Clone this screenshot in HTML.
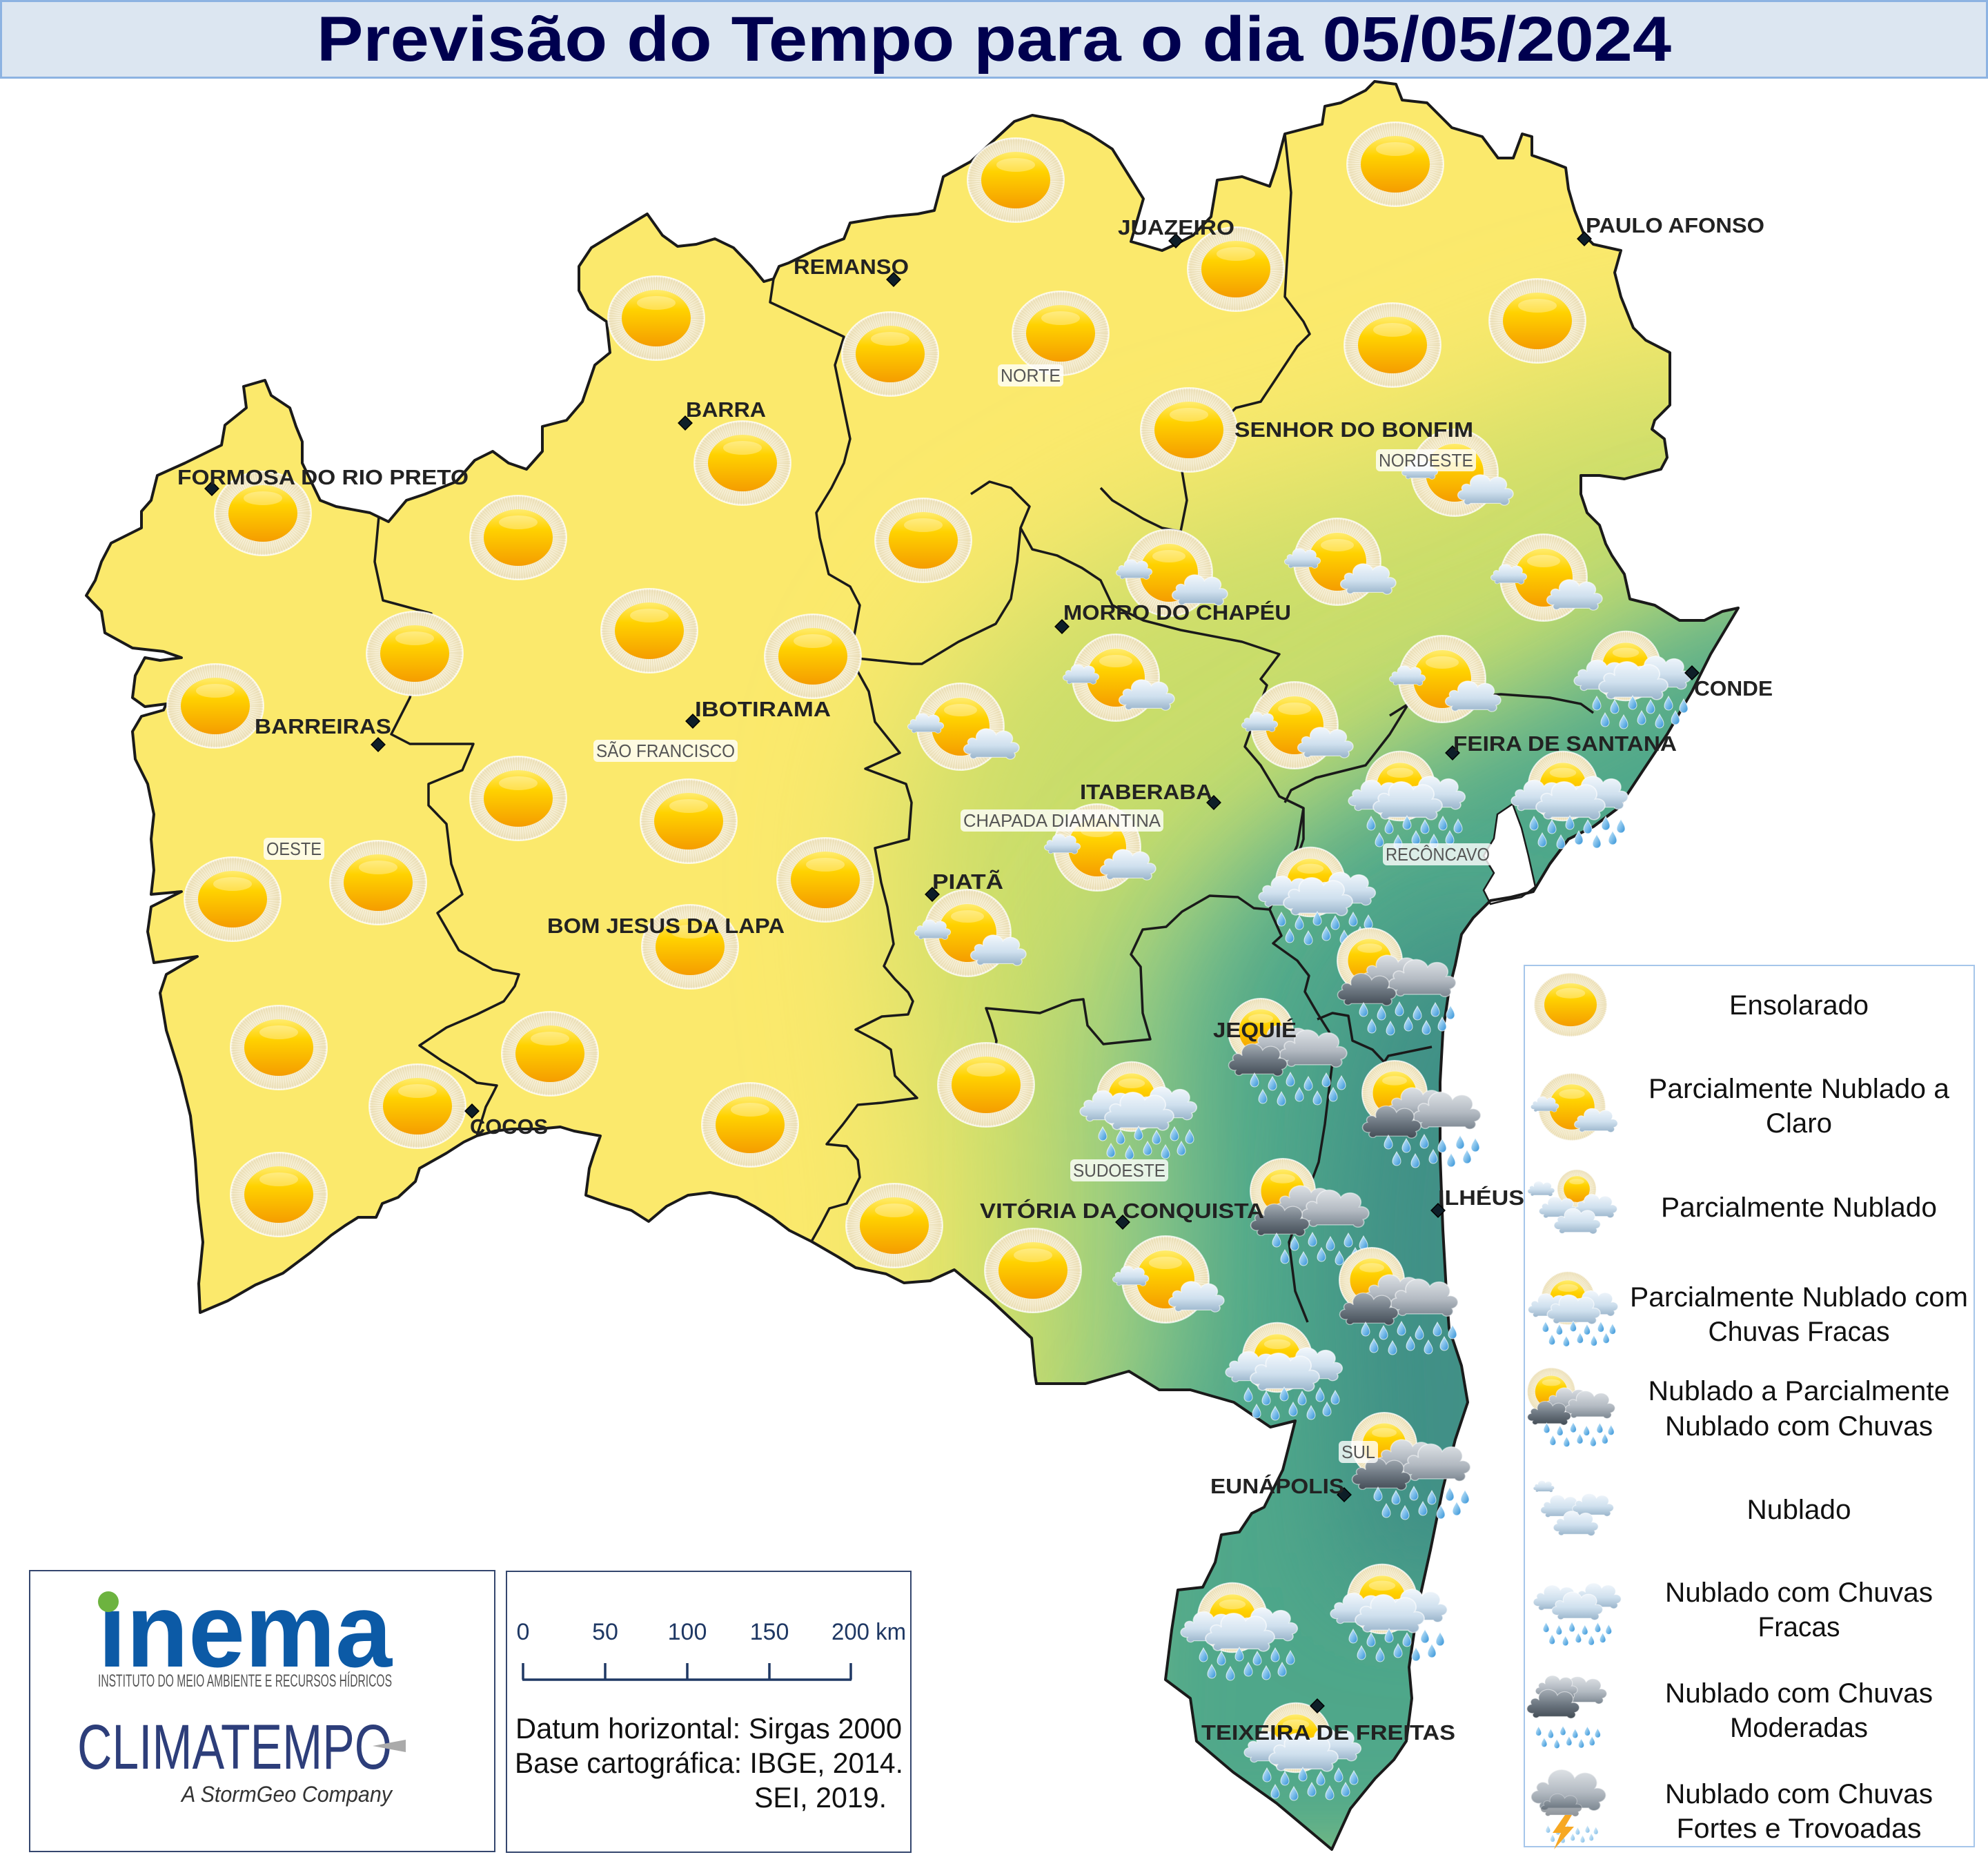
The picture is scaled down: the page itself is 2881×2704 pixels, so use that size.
<!DOCTYPE html>
<html><head><meta charset="utf-8"><style>
html,body{margin:0;padding:0;background:#fff;}
svg{display:block;}
text{font-family:"Liberation Sans","DejaVu Sans",sans-serif;}
.city{font-weight:bold;font-size:31px;fill:#222;}
.reg{font-size:26px;fill:#555;}
.lg{font-size:40px;fill:#111;text-anchor:middle;}
</style></head><body>
<svg width="2881" height="2704" viewBox="0 0 2881 2704" xmlns="http://www.w3.org/2000/svg">
<defs>
<radialGradient id="hg"><stop offset="0" stop-color="#fff8e0"/><stop offset="0.8" stop-color="#f6eed3"/><stop offset="0.95" stop-color="#f1e6c4"/><stop offset="1" stop-color="#fbf8ee"/></radialGradient>
<linearGradient id="dg" x1="0" y1="0" x2="0" y2="1"><stop offset="0" stop-color="#ffec6e"/><stop offset="0.35" stop-color="#ffd200"/><stop offset="1" stop-color="#f59d00"/></linearGradient>
<linearGradient id="clg" x1="0" y1="0" x2="0" y2="1"><stop offset="0" stop-color="#f2f7fc"/><stop offset="0.55" stop-color="#cfe0ee"/><stop offset="1" stop-color="#98b3ca"/></linearGradient>
<linearGradient id="cdg" x1="0" y1="0" x2="0" y2="1"><stop offset="0" stop-color="#a4acb4"/><stop offset="0.5" stop-color="#6e7882"/><stop offset="1" stop-color="#434c55"/></linearGradient>
<linearGradient id="cd2g" x1="0" y1="0" x2="0" y2="1"><stop offset="0" stop-color="#dde1e5"/><stop offset="0.55" stop-color="#b3bac2"/><stop offset="1" stop-color="#7c8791"/></linearGradient>
<linearGradient id="drg" x1="0" y1="0" x2="1" y2="1"><stop offset="0" stop-color="#d4f0ff"/><stop offset="1" stop-color="#2f90d6"/></linearGradient>
<filter id="b1" filterUnits="userSpaceOnUse" x="0" y="0" width="2881" height="2704"><feGaussianBlur stdDeviation="110"/></filter>
<filter id="b2" filterUnits="userSpaceOnUse" x="0" y="0" width="2881" height="2704"><feGaussianBlur stdDeviation="90"/></filter>
<filter id="b3" filterUnits="userSpaceOnUse" x="0" y="0" width="2881" height="2704"><feGaussianBlur stdDeviation="75"/></filter>
<polygon id="state" points="384,551 393,573 420,591 429,618 438,640 438,671 464,725 487,734 536,743 563,756 589,725 616,716 661,698 688,667 714,654 737,671 763,680 786,654 786,618 821,609 844,582 862,529 884,511 879,466 853,448 839,421 839,386 857,359 893,337 938,310 960,341 982,357 1009,354 1036,346 1063,359 1089,386 1107,408 1121,404 1129,386 1143,381 1188,359 1223,346 1232,323 1286,314 1330,310 1354,305 1367,256 1407,234 1470,176 1496,167 1540,175 1580,195 1612,216 1657,288 1639,350 1684,363 1704,354 1729,341 1755,314 1764,261 1800,256 1840,270 1849,243 1862,194 1916,180 1920,154 1943,149 1979,131 1992,118 2023,122 2032,145 2068,149 2104,185 2148,198 2171,229 2193,229 2206,194 2220,198 2220,225 2246,234 2269,243 2273,274 2282,305 2296,341 2309,354 2349,363 2340,395 2349,430 2367,475 2385,493 2420,511 2420,587 2398,609 2394,622 2412,636 2416,663 2407,680 2354,694 2318,689 2291,689 2291,716 2300,743 2318,761 2327,788 2336,805 2354,832 2362,868 2398,877 2434,899 2470,899 2496,886 2519,881 2479,948 2452,1002 2416,1064 2380,1118 2345,1171 2309,1198 2273,1216 2246,1252 2222,1292 2190,1300 2160,1305 2135,1330 2118,1354 2109,1398 2100,1434 2091,1496 2087,1568 2087,1675 2091,1782 2096,1871 2100,1925 2118,1979 2127,2032 2109,2086 2091,2157 2073,2246 2055,2327 2042,2416 2046,2461 2038,2523 2020,2550 1993,2577 1957,2621 1930,2680 1850,2613 1787,2568 1734,2523 1725,2461 1689,2434 1698,2362 1707,2304 1743,2300 1761,2264 1770,2224 1796,2220 1814,2193 1832,2184 1859,2130 1868,2095 1877,2059 1841,2068 1788,2032 1725,2014 1680,2014 1636,1987 1573,2005 1502,2005 1500,1993 1495,1939 1437,1885 1383,1840 1348,1856 1310,1859 1284,1846 1240,1837 1214,1821 1176,1799 1144,1783 1119,1764 1093,1748 1068,1735 1029,1728 997,1732 966,1748 940,1770 915,1754 883,1744 849,1732 854,1693 860,1674 870,1646 832,1639 812,1633 781,1636 742,1636 717,1639 691,1646 672,1655 647,1671 608,1693 602,1712 577,1735 554,1744 545,1764 519,1764 500,1776 480,1790 450,1815 410,1845 370,1862 330,1885 290,1902 288,1860 294,1800 287,1740 283,1680 276,1617 262,1560 241,1493 232,1439 241,1412 286,1386 223,1395 214,1350 219,1314 263,1292 219,1296 223,1261 219,1216 223,1180 214,1136 196,1100 192,1060 205,1038 237,1029 241,1020 210,1024 192,1011 196,979 210,953 232,957 263,953 237,944 192,939 152,917 147,886 125,863 138,841 147,814 161,787 205,765 205,741 219,725 228,689 268,671 321,645 326,616 357,591 353,560"/>
<clipPath id="stc"><use href="#state"/></clipPath>
<g id="sun">
 <ellipse rx="70" ry="61" fill="url(#hg)"/>
 <ellipse rx="60" ry="51" fill="none" stroke="#dccb94" stroke-width="20" stroke-dasharray="1 2.4" opacity=".45"/>
 <ellipse rx="70" ry="61" fill="none" stroke="#fff" stroke-width="2" opacity=".7"/>
 <ellipse rx="50" ry="41" fill="url(#dg)"/>
 <ellipse cy="-22" rx="28" ry="10" fill="#fff" opacity=".3"/>
</g>
<g id="sunc">
 <circle r="63" fill="url(#hg)"/>
 <circle r="53" fill="none" stroke="#dccb94" stroke-width="20" stroke-dasharray="1 2.4" opacity=".45"/>
 <circle r="63" fill="none" stroke="#fff" stroke-width="2" opacity=".7"/>
 <circle r="42" fill="url(#dg)"/>
 <ellipse cy="-24" rx="24" ry="9" fill="#fff" opacity=".3"/>
</g>
<g id="cL"><path transform="scale(1,.85)" d="M-40,18 A1,1 0 0 1 -44,-4 A1,1 0 0 1 -28,-14 A1,1 0 0 1 10,-26 A1,1 0 0 1 40,-8 A1,1 0 0 1 46,16 A1,1 0 0 1 30,26 L-28,26 A1,1 0 0 1 -40,18 Z" fill="url(#clg)" stroke="#fff" stroke-opacity=".6" stroke-width="2"/></g>
<g id="cD"><path transform="scale(1,.85)" d="M-40,18 A1,1 0 0 1 -44,-4 A1,1 0 0 1 -28,-14 A1,1 0 0 1 10,-26 A1,1 0 0 1 40,-8 A1,1 0 0 1 46,16 A1,1 0 0 1 30,26 L-28,26 A1,1 0 0 1 -40,18 Z" fill="url(#cdg)" stroke="#fff" stroke-opacity=".5" stroke-width="2"/></g>
<g id="cD2"><path transform="scale(1,.85)" d="M-40,18 A1,1 0 0 1 -44,-4 A1,1 0 0 1 -28,-14 A1,1 0 0 1 10,-26 A1,1 0 0 1 40,-8 A1,1 0 0 1 46,16 A1,1 0 0 1 30,26 L-28,26 A1,1 0 0 1 -40,18 Z" fill="url(#cd2g)" stroke="#fff" stroke-opacity=".5" stroke-width="2"/></g>
<path id="dp" d="M0,-10 C3,-4 6,-1 6,4 A6,6 0 0 1 -6,4 C-6,-1 -3,-4 0,-10Z" fill="url(#drg)" stroke="#fff" stroke-width="1" stroke-opacity=".7"/>
<g id="rn">
 <use href="#dp" x="-52" y="-8"/><use href="#dp" x="-26" y="-3"/><use href="#dp" x="0" y="-9"/><use href="#dp" x="26" y="-3"/><use href="#dp" x="52" y="-8"/><use href="#dp" x="74" y="-4"/>
 <use href="#dp" x="-40" y="16"/><use href="#dp" x="-13" y="19"/><use href="#dp" x="13" y="13"/><use href="#dp" x="39" y="18"/><use href="#dp" x="62" y="13"/>
</g>
<g id="iP">
 <use href="#sunc"/>
 <use href="#cL" transform="translate(-51,-3) scale(.48)"/>
 <use href="#cL" transform="translate(44,28) scale(.74)"/>
</g>
<g id="iR">
 <use href="#sunc" transform="translate(-5,-5) scale(.8)"/>
 <use href="#cL" transform="translate(-40,12) scale(.75)"/>
 <use href="#cL" transform="translate(45,8) scale(.8)"/>
 <use href="#cL" transform="translate(5,20) scale(.92)"/>
 <use href="#rn" transform="translate(5,57)"/>
</g>
<g id="iD">
 <use href="#sunc" transform="translate(-35,-26) scale(.75)"/>
 <use href="#cD2" transform="translate(-2,-6) scale(.82)"/>
 <use href="#cD2" transform="translate(40,3) scale(.9)"/>
 <use href="#cD" transform="translate(-40,19) scale(.78)"/>
 <use href="#rn" transform="translate(8,53)"/>
</g>
</defs>

<rect width="2881" height="2704" fill="#fff"/>

<!-- Title -->
<rect x="1.5" y="1.5" width="2878" height="111" fill="#dce6f1" stroke="#8db3e2" stroke-width="3"/>
<text x="459" y="88" font-size="92" font-weight="bold" fill="#00004f" textLength="1963" lengthAdjust="spacingAndGlyphs">Previsão do Tempo para o dia 05/05/2024</text>

<!-- Map fill -->
<g clip-path="url(#stc)">
 <rect x="0" y="100" width="2881" height="2604" fill="#fbe96c"/>
 <polygon filter="url(#b1)" fill="#c9dd6b" points="1330,2150 1370,1800 1330,1500 1300,1250 1340,1050 1450,900 1700,760 2000,680 2300,560 2500,520 2800,600 2800,2704 1330,2704"/>
 <polygon filter="url(#b2)" fill="#8fc985" points="1580,2200 1560,1850 1560,1550 1620,1350 1760,1230 1880,1150 2050,1040 2250,960 2420,850 2600,800 2800,900 2800,2704 1580,2704"/>
 <polygon filter="url(#b3)" fill="#4fa78a" points="1600,2704 1620,2150 1720,2000 1730,1750 1720,1500 1760,1380 1850,1260 2000,1160 2150,1080 2300,1010 2450,920 2600,880 2800,900 2800,2704"/>
 <polygon filter="url(#b3)" fill="#3f9086" points="1950,2300 1930,1800 1960,1500 2050,1350 2250,1350 2250,2300"/>
</g>
<!-- bay -->
<polygon points="2170,1180 2192,1165 2205,1200 2215,1240 2225,1285 2205,1300 2180,1305 2160,1310 2150,1290 2165,1265 2150,1240 2165,1215" fill="#fff" stroke="#1a1a1a" stroke-width="2.5"/>

<!-- region boundaries -->
<g fill="none" stroke="#1a1a1a" stroke-width="3.5" stroke-linejoin="round">
<polyline points="549,748 543,814 555,870 625,889 594,1011 567,1064 594,1078 686,1078 670,1116 621,1136 621,1167 647,1194 654,1252 670,1296 634,1323 665,1377 714,1405 752,1412 746,1429 730,1451 691,1470 647,1489 608,1515 640,1537 672,1556 691,1569 720,1573 714,1585 704,1604 701,1614 691,1646"/>
<polyline points="1121,404 1116,438 1223,488 1210,529 1219,573 1232,636 1223,671 1205,707 1183,743 1188,779 1201,832 1232,850 1246,877 1241,904 1232,953 1259,1002 1268,1046 1304,1091 1254,1114 1313,1136 1321,1163 1317,1216 1268,1229 1277,1279 1286,1314 1295,1368 1281,1400 1297,1419 1316,1438 1323,1451 1316,1470 1278,1473 1240,1492 1278,1512 1291,1521 1297,1559 1329,1591 1278,1598 1243,1601 1221,1630 1198,1658 1227,1661 1243,1681 1246,1706 1227,1744 1202,1751 1189,1776 1176,1799"/>
<polyline points="1232,953 1321,962 1336,962 1389,930 1443,904 1465,868 1474,814 1479,765 1492,734 1465,707 1434,698 1407,716"/>
<polyline points="1479,765 1496,796 1532,805 1568,823 1595,841 1612,877 1657,899 1711,913 1800,930 1854,948 1827,984 1836,993 1804,1082 1827,1109 1854,1154 1889,1171 1880,1225 1860,1270 1840,1318 1817,1316 1794,1300 1753,1298 1713,1321 1690,1343 1656,1347 1639,1383 1653,1401 1656,1468 1667,1506 1599,1513 1576,1486 1570,1448 1553,1450 1507,1468 1429,1461 1437,1483 1444,1508 1440,1540"/>
<polyline points="1862,194 1871,279 1862,430 1889,466 1898,484 1880,502 1845,555 1827,582 1791,591 1711,671 1720,725 1711,770 1684,765 1657,752 1612,725 1595,707"/>
<polyline points="2014,1037 2041,1020 2104,1011 2175,1006 2246,1011 2291,1020 2309,1033"/>
<polyline points="2041,1020 2014,1064 1979,1109 1907,1127 1871,1145 1862,1163"/>
<polyline points="1889,1171 1889,1216 1880,1243"/>
<polyline points="1840,1318 1857,1356 1845,1367 1880,1392 1897,1414 1891,1437 1909,1468 1926,1495 1931,1539 1926,1579 1920,1629 1911,1684 1868,1800 1877,1871 1895,1916"/>
<polyline points="1909,1477 1931,1468 1954,1472 1960,1508 1989,1521 2006,1539 2012,1530 2075,1517"/>
</g>
<use href="#state" fill="none" stroke="#1a1a1a" stroke-width="4" stroke-linejoin="round"/>

<!-- plain suns -->
<g>
<use href="#sun" x="1472" y="261"/><use href="#sun" x="2022" y="238"/><use href="#sun" x="1791" y="390"/>
<use href="#sun" x="951" y="461"/><use href="#sun" x="1290" y="513"/><use href="#sun" x="1537" y="483"/>
<use href="#sun" x="2018" y="500"/><use href="#sun" x="2228" y="465"/><use href="#sun" x="1723" y="623"/>
<use href="#sun" x="1076" y="671"/><use href="#sun" x="381" y="744"/><use href="#sun" x="751" y="779"/>
<use href="#sun" x="1338" y="783"/><use href="#sun" x="941" y="914"/><use href="#sun" x="601" y="947"/>
<use href="#sun" x="1178" y="951"/><use href="#sun" x="312" y="1023"/><use href="#sun" x="751" y="1157"/>
<use href="#sun" x="998" y="1190"/><use href="#sun" x="548" y="1279"/><use href="#sun" x="337" y="1303"/>
<use href="#sun" x="1196" y="1275"/><use href="#sun" x="1000" y="1372"/><use href="#sun" x="404" y="1518"/>
<use href="#sun" x="797" y="1527"/><use href="#sun" x="605" y="1603"/><use href="#sun" x="1429" y="1572"/>
<use href="#sun" x="1087" y="1630"/><use href="#sun" x="404" y="1731"/><use href="#sun" x="1296" y="1776"/>
<use href="#sun" x="1497" y="1841"/>
</g>
<!-- partly cloudy to clear -->
<g>
<use href="#iP" x="1694" y="830"/><use href="#iP" x="1938" y="814"/>
<use href="#iP" x="2237" y="837"/><use href="#iP" x="1617" y="982"/>
<use href="#iP" x="1392" y="1053"/><use href="#iP" x="1876" y="1051"/>
<use href="#iP" x="2090" y="984"/><use href="#iP" x="2108" y="685"/>
<use href="#iP" x="1590" y="1228"/><use href="#iP" x="1402" y="1352"/>
<use href="#iP" x="1689" y="1854"/>
</g>
<!-- partly cloudy light rain -->
<g>
<use href="#iR" x="2361" y="970"/><use href="#iR" x="2034" y="1144"/><use href="#iR" x="2270" y="1144"/>
<use href="#iR" x="1904" y="1283"/><use href="#iR" x="1645" y="1594"/><use href="#iR" x="1856" y="1972"/>
<use href="#iR" x="1791" y="2349"/><use href="#iR" x="2008" y="2322"/><use href="#iR" x="1883" y="2523"/>
</g>
<!-- cloudy with rain -->
<g>
<use href="#iD" x="2020" y="1418"/><use href="#iD" x="1862" y="1520"/><use href="#iD" x="2056" y="1610"/>
<use href="#iD" x="1894" y="1752"/><use href="#iD" x="2023" y="1881"/><use href="#iD" x="2041" y="2120"/>
</g>

<!-- diamonds -->
<g fill="#0e1e28" stroke="#000" stroke-width="1.5">
<rect x="-7" y="-7" width="14" height="14" transform="translate(307,708) rotate(45)"/>
<rect x="-7" y="-7" width="14" height="14" transform="translate(548,1079) rotate(45)"/>
<rect x="-7" y="-7" width="14" height="14" transform="translate(993,613) rotate(45)"/>
<rect x="-7" y="-7" width="14" height="14" transform="translate(1295,405) rotate(45)"/>
<rect x="-7" y="-7" width="14" height="14" transform="translate(1004,1045) rotate(45)"/>
<rect x="-7" y="-7" width="14" height="14" transform="translate(1351,1296) rotate(45)"/>
<rect x="-7" y="-7" width="14" height="14" transform="translate(1704,349) rotate(45)"/>
<rect x="-7" y="-7" width="14" height="14" transform="translate(2296,346) rotate(45)"/>
<rect x="-7" y="-7" width="14" height="14" transform="translate(1539,908) rotate(45)"/>
<rect x="-7" y="-7" width="14" height="14" transform="translate(2452,975) rotate(45)"/>
<rect x="-7" y="-7" width="14" height="14" transform="translate(2105,1091) rotate(45)"/>
<rect x="-7" y="-7" width="14" height="14" transform="translate(1759,1163) rotate(45)"/>
<rect x="-7" y="-7" width="14" height="14" transform="translate(1627,1771) rotate(45)"/>
<rect x="-7" y="-7" width="14" height="14" transform="translate(2084,1754) rotate(45)"/>
<rect x="-7" y="-7" width="14" height="14" transform="translate(1948,2166) rotate(45)"/>
<rect x="-7" y="-7" width="14" height="14" transform="translate(1909,2472) rotate(45)"/>
<rect x="-7" y="-7" width="14" height="14" transform="translate(684,1610) rotate(45)"/>
</g>

<!-- region labels -->
<g>
<rect x="1446" y="528" width="95" height="32" rx="6" fill="#fff" opacity=".8"/><text class="reg" x="1450" y="553" textLength="87" lengthAdjust="spacingAndGlyphs">NORTE</text>
<rect x="1994" y="651" width="145" height="32" rx="6" fill="#fff" opacity=".8"/><text class="reg" x="1998" y="676" textLength="137" lengthAdjust="spacingAndGlyphs">NORDESTE</text>
<rect x="860" y="1072" width="209" height="32" rx="6" fill="#fff" opacity=".8"/><text class="reg" x="864" y="1097" textLength="201" lengthAdjust="spacingAndGlyphs">SÃO FRANCISCO</text>
<rect x="382" y="1214" width="88" height="32" rx="6" fill="#fff" opacity=".8"/><text class="reg" x="386" y="1239" textLength="80" lengthAdjust="spacingAndGlyphs">OESTE</text>
<rect x="1392" y="1173" width="294" height="32" rx="6" fill="#fff" opacity=".8"/><text class="reg" x="1396" y="1198" textLength="286" lengthAdjust="spacingAndGlyphs">CHAPADA DIAMANTINA</text>
<rect x="2004" y="1222" width="159" height="32" rx="6" fill="#fff" opacity=".8"/><text class="reg" x="2008" y="1247" textLength="151" lengthAdjust="spacingAndGlyphs">RECÔNCAVO</text>
<rect x="1551" y="1680" width="142" height="32" rx="6" fill="#fff" opacity=".8"/><text class="reg" x="1555" y="1705" textLength="134" lengthAdjust="spacingAndGlyphs">SUDOESTE</text>
<rect x="1940" y="2088" width="57" height="32" rx="6" fill="#fff" opacity=".8"/><text class="reg" x="1944" y="2113" textLength="49" lengthAdjust="spacingAndGlyphs">SUL</text>
</g>

<!-- city labels -->
<g class="city">
<text class="city" x="257" y="702" textLength="422" lengthAdjust="spacingAndGlyphs">FORMOSA DO RIO PRETO</text>
<text class="city" x="369" y="1063" textLength="198" lengthAdjust="spacingAndGlyphs">BARREIRAS</text>
<text class="city" x="994" y="604" textLength="116" lengthAdjust="spacingAndGlyphs">BARRA</text>
<text class="city" x="1150" y="397" textLength="167" lengthAdjust="spacingAndGlyphs">REMANSO</text>
<text class="city" x="1007" y="1038" textLength="197" lengthAdjust="spacingAndGlyphs">IBOTIRAMA</text>
<text class="city" x="793" y="1352" textLength="344" lengthAdjust="spacingAndGlyphs">BOM JESUS DA LAPA</text>
<text class="city" x="1351" y="1288" textLength="103" lengthAdjust="spacingAndGlyphs">PIATÃ</text>
<text class="city" x="1620" y="340" textLength="169" lengthAdjust="spacingAndGlyphs">JUAZEIRO</text>
<text class="city" x="2298" y="337" textLength="259" lengthAdjust="spacingAndGlyphs">PAULO AFONSO</text>
<text class="city" x="1789" y="633" textLength="346" lengthAdjust="spacingAndGlyphs">SENHOR DO BONFIM</text>
<text class="city" x="1541" y="898" textLength="330" lengthAdjust="spacingAndGlyphs">MORRO DO CHAPÉU</text>
<text class="city" x="2455" y="1008" textLength="114" lengthAdjust="spacingAndGlyphs">CONDE</text>
<text class="city" x="2106" y="1088" textLength="324" lengthAdjust="spacingAndGlyphs">FEIRA DE SANTANA</text>
<text class="city" x="1565" y="1158" textLength="192" lengthAdjust="spacingAndGlyphs">ITABERABA</text>
<text class="city" x="1758" y="1503" textLength="121" lengthAdjust="spacingAndGlyphs">JEQUIÉ</text>
<text class="city" x="1420" y="1765" textLength="412" lengthAdjust="spacingAndGlyphs">VITÓRIA DA CONQUISTA</text>
<text class="city" x="2084" y="1746" textLength="125" lengthAdjust="spacingAndGlyphs">ILHÉUS</text>
<text class="city" x="1754" y="2164" textLength="194" lengthAdjust="spacingAndGlyphs">EUNÁPOLIS</text>
<text class="city" x="1741" y="2521" textLength="368" lengthAdjust="spacingAndGlyphs">TEIXEIRA DE FREITAS</text>
<text class="city" x="681" y="1643" textLength="113" lengthAdjust="spacingAndGlyphs">COCOS</text>
</g>

<!-- Legend -->
<rect x="2209" y="1399" width="652" height="1277" fill="#fff" stroke="#a6c6ea" stroke-width="2"/>
<use href="#sun" transform="translate(2276,1456) scale(.76)"/>
<use href="#iP" transform="translate(2278,1604) scale(.78)"/>
<g>
 <use href="#sunc" transform="translate(2285,1723) scale(.45)"/>
 <use href="#cL" transform="translate(2233,1724) scale(.36)"/>
 <use href="#cL" transform="translate(2258,1752) scale(.52)"/>
 <use href="#cL" transform="translate(2312,1750) scale(.57)"/>
 <use href="#cL" transform="translate(2285,1772) scale(.62)"/>
</g>
<use href="#iR" transform="translate(2276,1885) scale(.77)"/>
<use href="#iD" transform="translate(2274,2036) scale(.74)"/>
<g>
 <use href="#cL" transform="translate(2237,2155) scale(.28)"/>
 <use href="#cL" transform="translate(2262,2185) scale(.55)"/>
 <use href="#cL" transform="translate(2308,2183) scale(.55)"/>
 <use href="#cL" transform="translate(2283,2210) scale(.6)"/>
</g>
<g>
 <use href="#cL" transform="translate(2255,2318) scale(.62)"/>
 <use href="#cL" transform="translate(2315,2315) scale(.62)"/>
 <use href="#cL" transform="translate(2285,2330) scale(.68)"/>
 <use href="#rn" transform="translate(2278,2364) scale(.72)"/>
</g>
<g>
 <use href="#cD2" transform="translate(2292,2452) scale(.66)"/>
 <use href="#cD2" transform="translate(2255,2447) scale(.56)"/>
 <use href="#cD" transform="translate(2250,2472) scale(.7)"/>
 <use href="#rn" transform="translate(2265,2514) scale(.68)"/>
</g>
<g>
 <use href="#cD2" transform="translate(2272,2598) scale(1.0)"/>
 <use href="#cD" transform="translate(2262,2618) scale(.55)" opacity=".6"/>
 <use href="#rn" transform="translate(2272,2655) scale(.55)" opacity=".6"/>
 <polygon points="2268,2630 2250,2656 2262,2656 2252,2680 2281,2647 2268,2647 2278,2630" fill="#f7a823"/>
</g>
<g class="lg">
<text class="lg" x="2607" y="1470" textLength="202" lengthAdjust="spacingAndGlyphs">Ensolarado</text>
<text class="lg" x="2607" y="1591" textLength="436" lengthAdjust="spacingAndGlyphs">Parcialmente Nublado a</text>
<text class="lg" x="2607" y="1641" textLength="96" lengthAdjust="spacingAndGlyphs">Claro</text>
<text class="lg" x="2607" y="1763" textLength="400" lengthAdjust="spacingAndGlyphs">Parcialmente Nublado</text>
<text class="lg" x="2607" y="1893" textLength="490" lengthAdjust="spacingAndGlyphs">Parcialmente Nublado com</text>
<text class="lg" x="2607" y="1943" textLength="263" lengthAdjust="spacingAndGlyphs">Chuvas Fracas</text>
<text class="lg" x="2607" y="2029" textLength="437" lengthAdjust="spacingAndGlyphs">Nublado a Parcialmente</text>
<text class="lg" x="2607" y="2080" textLength="388" lengthAdjust="spacingAndGlyphs">Nublado com Chuvas</text>
<text class="lg" x="2607" y="2201" textLength="151" lengthAdjust="spacingAndGlyphs">Nublado</text>
<text class="lg" x="2607" y="2321" textLength="388" lengthAdjust="spacingAndGlyphs">Nublado com Chuvas</text>
<text class="lg" x="2607" y="2371" textLength="119" lengthAdjust="spacingAndGlyphs">Fracas</text>
<text class="lg" x="2607" y="2467" textLength="388" lengthAdjust="spacingAndGlyphs">Nublado com Chuvas</text>
<text class="lg" x="2607" y="2517" textLength="200" lengthAdjust="spacingAndGlyphs">Moderadas</text>
<text class="lg" x="2607" y="2613" textLength="388" lengthAdjust="spacingAndGlyphs">Nublado com Chuvas</text>
<text class="lg" x="2607" y="2663" textLength="355" lengthAdjust="spacingAndGlyphs">Fortes e Trovoadas</text>
</g>

<!-- Logo box -->
<rect x="43" y="2276" width="674" height="407" fill="#fff" stroke="#34466e" stroke-width="2"/>
<text x="142" y="2415" font-size="152" font-weight="bold" fill="#0c5aa6" textLength="426" lengthAdjust="spacingAndGlyphs">ınema</text>
<circle cx="157" cy="2321" r="15" fill="#6db33f"/>
<text x="142" y="2444" font-size="25" fill="#555" textLength="426" lengthAdjust="spacingAndGlyphs">INSTITUTO DO MEIO AMBIENTE E RECURSOS HÍDRICOS</text>
<text x="112" y="2563" font-size="92" fill="#2d3e7a" textLength="456" lengthAdjust="spacingAndGlyphs">CLIMATEMPO</text>
<polygon points="540,2530 588,2521 588,2539" fill="#aaa"/>
<text x="263" y="2611" font-size="32" font-style="italic" fill="#333" textLength="305" lengthAdjust="spacingAndGlyphs">A StormGeo Company</text>

<!-- Scale box -->
<rect x="734" y="2277" width="586" height="407" fill="#fff" stroke="#34466e" stroke-width="2"/>
<g font-size="34" fill="#1f3864" text-anchor="middle">
<text x="758" y="2376">0</text>
<text x="877" y="2376">50</text>
<text x="996" y="2376">100</text>
<text x="1115" y="2376">150</text>
</g>
<text x="1205" y="2376" font-size="34" fill="#1f3864" textLength="108" lengthAdjust="spacingAndGlyphs">200 km</text>
<g stroke="#1f3864" stroke-width="3.5" fill="none">
<line x1="757" y1="2434" x2="1234" y2="2434"/>
<line x1="758" y1="2410" x2="758" y2="2434"/>
<line x1="877" y1="2410" x2="877" y2="2434"/>
<line x1="996" y1="2410" x2="996" y2="2434"/>
<line x1="1115" y1="2410" x2="1115" y2="2434"/>
<line x1="1233" y1="2410" x2="1233" y2="2434"/>
</g>
<text x="747" y="2519" font-size="42" fill="#111" textLength="560" lengthAdjust="spacingAndGlyphs">Datum horizontal: Sirgas 2000</text>
<text x="746" y="2569" font-size="42" fill="#111" textLength="563" lengthAdjust="spacingAndGlyphs">Base cartográfica: IBGE, 2014.</text>
<text x="1093" y="2619" font-size="42" fill="#111" textLength="192" lengthAdjust="spacingAndGlyphs">SEI, 2019.</text>
</svg>
</body></html>
